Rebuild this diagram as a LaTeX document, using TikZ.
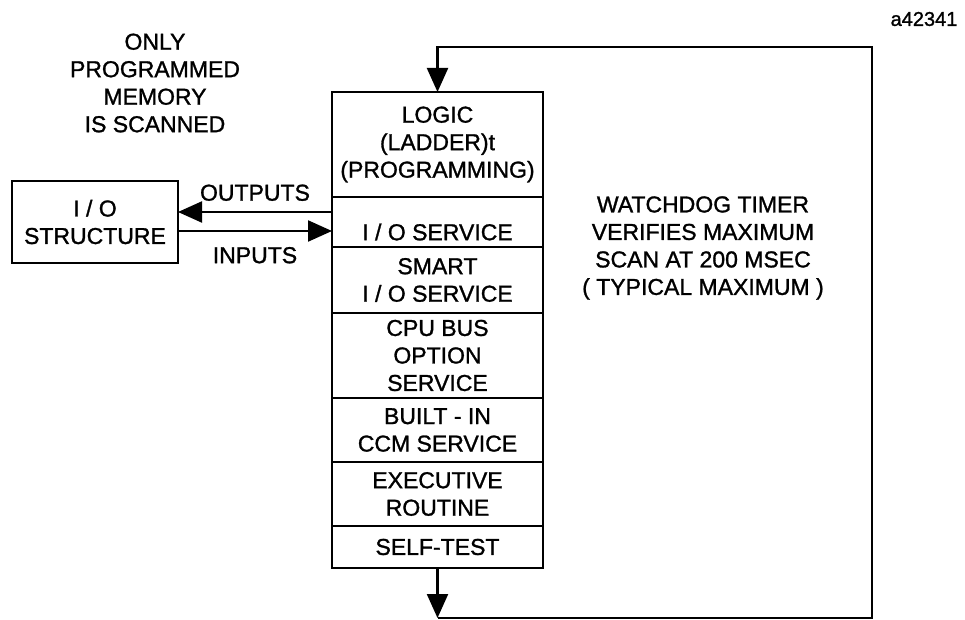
\documentclass[tikz,border=0pt]{standalone}
\usepackage{fontspec}
\setmainfont{Liberation Sans}[FakeBold=1.2]
\usetikzlibrary{arrows.meta,positioning}
\begin{document}
\begin{tikzpicture}[x=1pt,y=-1pt,
	blk/.style={draw,line width=2.2pt,minimum width=211pt,align=center,outer sep=0pt},
	arr/.style={line width=2.2pt,-{Triangle[length=24pt,width=21pt]}},
	txt/.style={align=center}]
	\tikzstyle{every node}+=[inner sep=0pt,font=\fontsize{23}{27.5}\selectfont]
	\useasboundingbox (0,0) rectangle (965,620);
	\node[txt] (note) at (155,83) {ONLY\\PROGRAMMED\\MEMORY\\IS SCANNED};
	\node[txt,font=\fontsize{20}{24}\selectfont] (fignum) at (924,19) {a42341};
	\node[txt] (watchdog) at (703,248) {WATCHDOG TIMER\\VERIFIES MAXIMUM\\SCAN AT 200 MSEC\\( TYPICAL MAXIMUM )};
	\node[blk,minimum height=105pt] (logic) at (437.5,144.5) {LOGIC\\(LADDER)t\\(PROGRAMMING)};
	\node[blk,minimum height=50pt,below=0pt of logic,label={[yshift=-10pt]center:I / O SERVICE}] (iosvc) {};
	\node[blk,minimum height=66pt,below=0pt of iosvc] (smart) {SMART\\I / O SERVICE};
	\node[blk,minimum height=85pt,below=0pt of smart] (cpubus) {CPU BUS\\OPTION\\SERVICE};
	\node[blk,minimum height=64pt,below=0pt of cpubus] (builtin) {BUILT - IN\\CCM SERVICE};
	\node[blk,minimum height=64pt,below=0pt of builtin] (exec) {EXECUTIVE\\ROUTINE};
	\node[blk,minimum height=42pt,below=0pt of exec] (selftest) {SELF-TEST};
	\node[blk,minimum width=166pt,minimum height=82pt] (iobox) at (95,222) {I / O\\STRUCTURE};
	\coordinate (bot) at ([yshift=-50pt]selftest.south);
	\coordinate (corner) at (872,47);
	\draw[arr] ([yshift=10pt]iosvc.west) -- ([yshift=10pt]iobox.east) node[midway,above=10pt] {OUTPUTS};
	\draw[arr] ([yshift=-9pt]iobox.east) -- ([yshift=-9pt]iosvc.west) node[midway,below=15pt] {INPUTS};
	\draw[arr] (selftest.south) -- (bot);
	\draw[arr] (bot) -| (corner) -| (logic.north);
\end{tikzpicture}
\end{document}
